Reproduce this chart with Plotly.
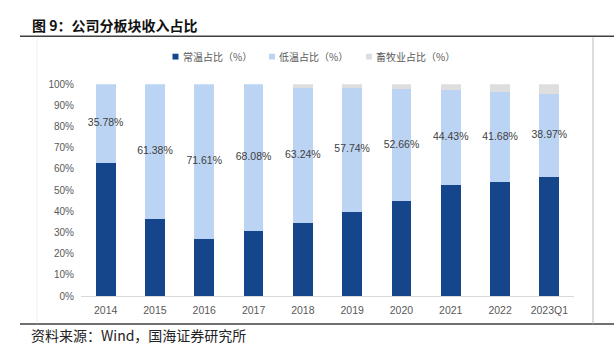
import plotly.graph_objects as go

W, H = 614, 351

categories = ["2014", "2015", "2016", "2017", "2018", "2019", "2020", "2021", "2022", "2023Q1"]
normal_temp = [63.0, 36.2, 26.7, 30.7, 34.5, 39.9, 44.7, 52.2, 53.9, 56.0]
low_temp = [37.0, 63.8, 73.3, 69.3, 63.7, 58.2, 53.0, 45.1, 42.4, 39.4]
livestock = [0.0, 0.0, 0.0, 0.0, 1.8, 1.9, 2.3, 2.7, 3.7, 4.6]
low_labels = ["35.78%", "61.38%", "71.61%", "68.08%", "63.24%", "57.74%", "52.66%", "44.43%", "41.68%", "38.97%"]
series_names = ["常温占比（%）", "低温占比（%）", "畜牧业占比（%）"]
colors = ["#15468c", "#bcd4f3", "#dedede"]
yticks = [0, 10, 20, 30, 40, 50, 60, 70, 80, 90, 100]

def px(x):
    return x / W

def py(y):
    return 1 - y / H

fig = go.Figure()
for name, vals, col in zip(series_names, [normal_temp, low_temp, livestock], colors):
    fig.add_trace(go.Bar(x=categories, y=vals, name=name, marker=dict(color=col, line=dict(width=0)),
                         showlegend=False, hoverinfo="skip"))

label_y = [n + l / 2 for n, l in zip(normal_temp, low_temp)]
fig.add_trace(go.Scatter(x=categories, y=label_y, mode="text", text=low_labels,
                         textfont=dict(family="Liberation Sans, Arial", size=10.5, color="#404040"),
                         showlegend=False, cliponaxis=False, hoverinfo="skip"))

shapes = []
annotations = []
# legend (manual)
leg_x = [175.5, 272, 369]
for name, col, lx in zip(series_names, colors, leg_x):
    shapes.append(dict(type="rect", xref="paper", yref="paper",
                       x0=px(lx - 3), x1=px(lx + 3), y0=py(53.3 + 3), y1=py(53.3 - 3),
                       fillcolor=col, line=dict(width=0)))
    annotations.append(dict(xref="paper", yref="paper", x=px(lx + 5), y=py(53.3), text=name,
                            showarrow=False, xanchor="left", yanchor="middle",
                            font=dict(family="Noto Sans CJK SC", size=10, color="#595959")))

# title and source
annotations.append(dict(xref="paper", yref="paper", x=px(30), y=py(21), text="<b>图 9：公司分板块收入占比</b>",
                        showarrow=False, xanchor="left", yanchor="middle",
                        font=dict(family="Noto Sans CJK SC", size=14, color="#111111")))
annotations.append(dict(xref="paper", yref="paper", x=px(29), y=py(341), text="资料来源：Wind，国海证券研究所",
                        showarrow=False, xanchor="left", yanchor="middle",
                        font=dict(family="Noto Sans CJK SC", size=14, color="#222222")))

# rules and chart frame
shapes.append(dict(type="line", xref="paper", yref="paper", x0=px(20), x1=1, y0=py(32.3), y1=py(32.3),
                   line=dict(color="#404040", width=1.5)))
shapes.append(dict(type="line", xref="paper", yref="paper", x0=px(20), x1=1, y0=py(329.3), y1=py(329.3),
                   line=dict(color="#404040", width=1.5)))
shapes.append(dict(type="line", xref="paper", yref="paper", x0=px(37), x1=px(37), y0=py(33.5), y1=py(328.5),
                   line=dict(color="#f0f0f0", width=1)))
shapes.append(dict(type="line", xref="paper", yref="paper", x0=px(593), x1=px(593), y0=py(33.5), y1=py(328.5),
                   line=dict(color="#dddddd", width=2)))

fig.update_layout(
    width=W, height=H, autosize=False,
    margin=dict(l=0, r=0, t=0, b=0),
    paper_bgcolor="white", plot_bgcolor="white",
    barmode="stack", bargap=0.6,
    showlegend=False,
    shapes=shapes, annotations=annotations,
    xaxis=dict(domain=[px(81), px(574)], type="category", showgrid=False, zeroline=False,
               showline=True, linecolor="#d9d9d9", linewidth=1, ticks="", ticklabelstandoff=4,
               tickfont=dict(family="Liberation Sans, Arial", size=10.5, color="#595959")),
    yaxis=dict(domain=[py(300.5), py(81.7)], range=[0, 100], tickvals=yticks,
               ticktext=[f"{v}%" for v in yticks], showgrid=False, zeroline=False,
               showline=False, ticks="", ticklabelstandoff=6,
               tickfont=dict(family="Liberation Sans, Arial", size=10, color="#595959")),
)

fig.write_html("out.html")
